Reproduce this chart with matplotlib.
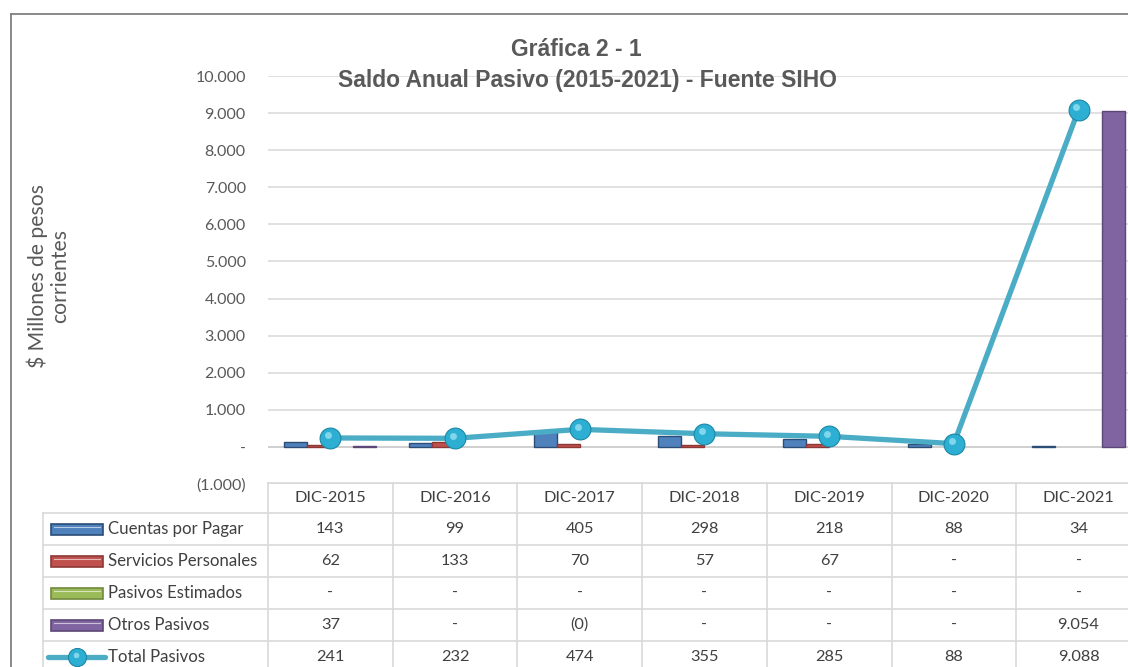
import matplotlib.pyplot as plt
import matplotlib.transforms as mtransforms
from matplotlib.patches import Rectangle
from matplotlib.lines import Line2D

# data ($ millones)
years = ["DIC-2015", "DIC-2016", "DIC-2017", "DIC-2018", "DIC-2019", "DIC-2020", "DIC-2021"]
cuentas = [143, 99, 405, 298, 218, 88, 34]
servicios = [62, 133, 70, 57, 67, 0, 0]
estimados = [0, 0, 0, 0, 0, 0, 0]
otros = [37, 0, -0.3, 0, 0, 0, 9054]
total = [241, 232, 474, 355, 285, 88, 9088]
y_ticks = [-1000, 0, 1000, 2000, 3000, 4000, 5000, 6000, 7000, 8000, 9000, 10000]

series_names = ["Cuentas por Pagar", "Servicios Personales", "Pasivos Estimados", "Otros Pasivos"]
series_vals = [cuentas, servicios, estimados, otros]
face = ["#4F81BD", "#C0504D", "#9BBB59", "#8064A2"]
edge = ["#2C4D75", "#8C3836", "#71893F", "#5C4776"]
line_col = "#4BACC6"
dot_col = "#2DAFD3"

FONT = ["Lato", "DejaVu Sans"]
TITLE_FONT = ["Liberation Sans Narrow", "Liberation Sans", "DejaVu Sans"]
GREY = "#595959"
TXT = "#404040"
GRID = "#D9D9D9"


def fmt(v):
    # Excel-style accounting format: "-" for zero, parentheses for negatives
    r = round(v)
    if v == 0:
        return "-"
    if v < 0:
        return "(" + f"{abs(r):,}".replace(",", ".") + ")"
    return f"{r:,}".replace(",", ".")


W, H = 1128, 667
fig = plt.figure(figsize=(W / 100, H / 100), dpi=100)


def fx(px):
    return px / W


def fy(py):
    return 1 - py / H


# plot area in pixel terms
x0, col_w = 268, 124.7
y_top, y_bot = 76, 484
ax = fig.add_axes([fx(x0), fy(y_bot), fx(W - x0), (y_bot - y_top) / H])
ax.set_xlim(-0.5, -0.5 + (W - x0) / col_w)
ax.set_ylim(-1000, 10000)

bw = 0.185
xs = list(range(len(years)))
for i, (vals, fc, ec) in enumerate(zip(series_vals, face, edge)):
    off = (i - 1.5) * bw
    ecs = [ec if abs(v) >= 1 else "none" for v in vals]
    ax.bar([x + off for x in xs], vals, width=bw, color=fc, edgecolor=ecs,
           linewidth=1.0, zorder=3)

ax.plot(xs, total, color=line_col, lw=3.8, zorder=4, solid_capstyle="round")
ax.plot(xs, total, ls="none", marker="o", ms=15, mfc=dot_col, mec="#1C87A5",
        mew=0.8, zorder=5)
hl = ax.transData + mtransforms.ScaledTranslation(-1.6 / 72, 1.8 / 72, fig.dpi_scale_trans)
ax.plot(xs, total, ls="none", marker="o", ms=5, mfc="#8FDDF0", mec="none",
        alpha=0.85, zorder=6, transform=hl)

ax.set_yticks(y_ticks)
ax.set_yticklabels([fmt(t) for t in y_ticks], fontsize=11.5, color=GREY, family=FONT)
ax.tick_params(axis="y", length=0, pad=16)
ax.set_xticks([])
ax.yaxis.grid(True, color=GRID, lw=1.1, zorder=0)
ax.set_axisbelow(True)
for s in ax.spines.values():
    s.set_visible(False)
ax.axhline(0, color="#CFCFCF", lw=1.3, zorder=1)

# titles
fig.text(fx(576), fy(50), "Gráfica 2 - 1", ha="center", va="center",
         fontsize=16.5, fontweight="bold", color=GREY, family=TITLE_FONT)
fig.text(fx(587), fy(80), "Saldo Anual Pasivo (2015-2021) - Fuente SIHO", ha="center",
         va="center", fontsize=16.5, fontweight="bold", color=GREY, family=TITLE_FONT)
fig.text(fx(48), fy(276), "$ Millones de pesos\ncorrientes", rotation=90, ha="center",
         va="center", fontsize=15.2, color=GREY, family=FONT, linespacing=1.15,
         multialignment="center")

# chart border
fig.add_artist(Line2D([fx(11), fx(11)], [fy(14), 0], color="#808080", lw=1.3))
fig.add_artist(Line2D([fx(11), 1], [fy(14), fy(14)], color="#808080", lw=1.3))

# data table
hdr_top, row_top, row_h = 483, 513, 32
n_rows = len(series_names) + 1
tbl_left = 43
col_edges = [x0 + col_w * k for k in range(len(years) + 1)]
fig.add_artist(Line2D([fx(x0), 1], [fy(hdr_top)] * 2, color=GRID, lw=1.2))
for r in range(n_rows + 1):
    yy = row_top + r * row_h
    fig.add_artist(Line2D([fx(tbl_left), 1], [fy(yy)] * 2, color=GRID, lw=1.2))
fig.add_artist(Line2D([fx(tbl_left)] * 2, [fy(row_top), 0], color=GRID, lw=1.2))
for xe in col_edges:
    fig.add_artist(Line2D([fx(xe)] * 2, [fy(hdr_top), 0], color=GRID, lw=1.2))

for k, yr in enumerate(years):
    fig.text(fx(x0 + col_w * (k + 0.5)), fy(hdr_top + 15), yr, ha="center",
             va="center", fontsize=11.8, color=TXT, family=FONT)

rows = series_vals + [total]
names = series_names + ["Total Pasivos"]
for r, (name, vals) in enumerate(zip(names, rows)):
    yc = row_top + r * row_h + row_h / 2
    fig.text(fx(108), fy(yc), name, ha="left", va="center", fontsize=12.1,
             color=TXT, family=FONT)
    for k, v in enumerate(vals):
        fig.text(fx(x0 + col_w * (k + 0.5)), fy(yc), fmt(v), ha="center",
                 va="center", fontsize=11.8, color=TXT, family=FONT)
    if r < len(series_names):
        fig.add_artist(Rectangle((fx(51), fy(yc + 5.5)), fx(52), 11 / H,
                                 facecolor=face[r], edgecolor=edge[r], lw=1.2))
        fig.add_artist(Line2D([fx(54), fx(100)], [fy(yc - 2)] * 2,
                              color="white", lw=0.8, alpha=0.6))
    else:
        fig.add_artist(Line2D([fx(48), fx(105)], [fy(yc)] * 2, color=line_col,
                              lw=3.8, solid_capstyle="round"))
        fig.add_artist(Line2D([fx(77)], [fy(yc)], ls="none", marker="o", ms=13,
                              mfc=dot_col, mec="#1C87A5", mew=0.8))
        fig.add_artist(Line2D([fx(75.5)], [fy(yc - 2)], ls="none", marker="o", ms=4,
                              mfc="#8FDDF0", mec="none", alpha=0.85))

fig.savefig("out.png", dpi=100)
